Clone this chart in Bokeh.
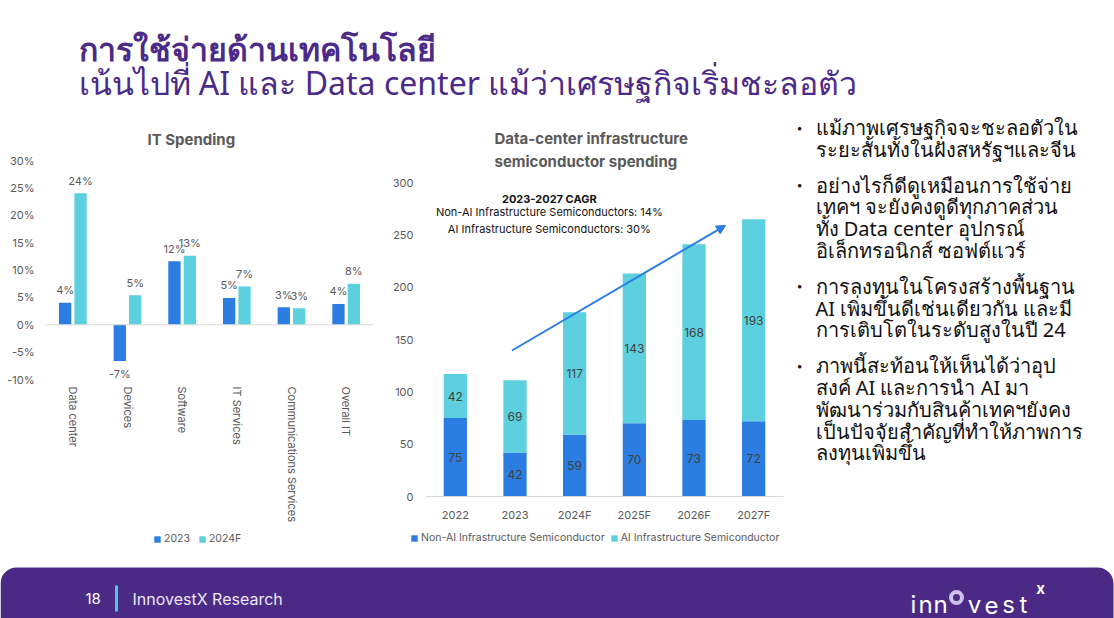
import numpy as np
from bokeh.plotting import figure
from bokeh.models import (ColumnDataSource, Range1d, FactorRange, FixedTicker, PrintfTickFormatter,
                          LabelSet, Label, Legend, LegendItem, Span, Arrow, NormalHead)
from bokeh.layouts import column, row
from bokeh.transform import dodge
from bokeh.core.properties import value
from bokeh.embed import file_html
from bokeh.resources import INLINE

# ---------------- data ----------------
it_categories = ["Data center", "Devices", "Software", "IT Services",
                 "Communications Services", "Overall IT"]
it_2023 = [4.0, -6.6, 11.6, 4.9, 3.2, 3.8]
it_2024f = [24.0, 5.4, 12.6, 7.0, 3.0, 7.5]
it_2023_labels = ["4%", "-7%", "12%", "5%", "3%", "4%"]
it_2024f_labels = ["24%", "5%", "13%", "7%", "3%", "8%"]
it_ticks = [-10, -5, 0, 5, 10, 15, 20, 25, 30]
it_series = ["2023", "2024F"]

dc_years = ["2022", "2023", "2024F", "2025F", "2026F", "2027F"]
dc_non_ai = [75, 42, 59, 70, 73, 72]
dc_ai = [42, 69, 117, 143, 168, 193]
dc_ticks = [0, 50, 100, 150, 200, 250, 300]
dc_series = ["Non-AI Infrastructure Semiconductor", "AI Infrastructure Semiconductor"]
cagr_lines = ["2023-2027 CAGR",
              "Non-AI Infrastructure Semiconductors: 14%",
              "AI Infrastructure Semiconductors: 30%"]

title_line1 = "การใช้จ่ายด้านเทคโนโลยี"
title_line2 = "เน้นไปที่ AI และ Data center แม้ว่าเศรษฐกิจเริ่มชะลอตัว"
bullets = [
    ["แม้ภาพเศรษฐกิจจะชะลอตัวใน", "ระยะสั้นทั้งในฝั่งสหรัฐฯและจีน"],
    ["อย่างไรก็ดีดูเหมือนการใช้จ่าย", "เทคฯ จะยังคงดูดีทุกภาคส่วน",
     "ทั้ง Data center อุปกรณ์", "อิเล็กทรอนิกส์ ซอฟต์แวร์"],
    ["การลงทุนในโครงสร้างพื้นฐาน", "AI เพิ่มขึ้นดีเช่นเดียวกัน และมี",
     "การเติบโตในระดับสูงในปี 24"],
    ["ภาพนี้สะท้อนให้เห็นได้ว่าอุป", "สงค์ AI และการนำ AI มา",
     "พัฒนาร่วมกับสินค้าเทคฯยังคง", "เป็นปัจจัยสำคัญที่ทำให้ภาพการ",
     "ลงทุนเพิ่มขึ้น"],
]
page_number = "18"
footer_text = "InnovestX Research"

# ---------------- style ----------------
BLUE = "#2B7DE1"
CYAN = "#5DD0DF"
PURPLE = "#4B2A88"
GRAY = "#595959"
DARK = "#404040"
FONT = value("Inter")
THAI = value("Noto Sans")


def clean(p, bg="white"):
    p.outline_line_color = None
    p.grid.visible = False
    p.background_fill_color = "white"
    p.border_fill_color = bg


NOB = dict(min_border=0, min_border_left=0, min_border_right=0, min_border_top=0, min_border_bottom=0)

# ---------------- header ----------------
hdr = figure(width=1114, height=110, x_range=Range1d(0, 1114), y_range=Range1d(110, 0),
             output_backend="svg", toolbar_location=None, **NOB)
clean(hdr)
hdr.axis.visible = False
hdr.text(x=[78], y=[48], text=[title_line1], text_font=THAI, text_font_style="bold",
         text_font_size="32px", text_color=PURPLE, text_baseline="alphabetic")
hdr.text(x=[78], y=[82], text=[title_line2], text_font=THAI,
         text_font_size="32px", text_color=PURPLE, text_baseline="alphabetic")

# ---------------- left chart: IT spending ----------------
p1 = figure(width=380, height=415, x_range=FactorRange(*it_categories), y_range=Range1d(-10, 30),
            output_backend="svg", toolbar_location=None,
            min_border_left=45, min_border_right=7, min_border_top=50, min_border_bottom=141)
clean(p1)
p1.title.text = "IT Spending"
p1.title.align = "left"
p1.title.offset = 102
p1.title.standoff = 23
p1.title.text_font = "Inter"
p1.title.text_font_size = "15px"
p1.title.text_font_style = "bold"
p1.title.text_color = GRAY
src1 = ColumnDataSource(dict(
    cat=it_categories, v23=it_2023, v24=it_2024f,
    l23=it_2023_labels, l24=it_2024f_labels,
    o23=[12.5 if v >= 0 else -13 for v in it_2023],
    o24=[12.5 if v >= 0 else -13 for v in it_2024f],
))
bw, dd = 0.225, 0.141
r23 = p1.vbar(x=dodge("cat", -dd, range=p1.x_range), top="v23", width=bw, source=src1,
              fill_color=BLUE, line_color=None)
r24 = p1.vbar(x=dodge("cat", dd, range=p1.x_range), top="v24", width=bw, source=src1,
              fill_color=CYAN, line_color=None)
p1.add_layout(Span(location=0, dimension="width", line_color="#d9d9d9", line_width=1))
for xs, ys, ls, os_ in [(-dd, "v23", "l23", "o23"), (dd, "v24", "l24", "o24")]:
    p1.add_layout(LabelSet(x=dodge("cat", xs, range=p1.x_range), y=ys, text=ls, y_offset=os_,
                           source=src1, text_align="center", text_baseline="middle",
                           text_font=FONT, text_font_size="11px", text_color=GRAY))
p1.yaxis.ticker = FixedTicker(ticks=it_ticks)
p1.yaxis.formatter = PrintfTickFormatter(format="%d%%")
for ax in (p1.xaxis, p1.yaxis):
    ax.axis_line_color = None
    ax.major_tick_line_color = None
    ax.minor_tick_line_color = None
    ax.major_tick_out = 0
    ax.major_tick_in = 0
    ax.minor_tick_out = 0
    ax.major_label_text_color = GRAY
    ax.major_label_text_font = "Inter"
    ax.major_label_text_font_size = "11px"
p1.yaxis.major_label_standoff = 11
p1.xaxis.major_label_orientation = "vertical"
p1.xaxis.major_label_standoff = 7

# ---------------- right chart: data-center semis ----------------
p2 = figure(width=410, height=415, x_range=FactorRange(*dc_years), y_range=Range1d(0, 300),
            output_backend="svg", toolbar_location=None,
            min_border_left=45, min_border_right=7, min_border_top=72, min_border_bottom=29)
clean(p2)
p2.title.text = "Data-center infrastructure\nsemiconductor spending"
p2.title.align = "left"
p2.title.offset = 69
p2.title.standoff = 23
p2.title.text_font = "Inter"
p2.title.text_font_size = "15px"
p2.title.text_font_style = "bold"
p2.title.text_color = GRAY
p2.title.text_line_height = 1.2
src2 = ColumnDataSource(dict(
    year=dc_years, non_ai=dc_non_ai, ai=dc_ai,
    mid_non=[v / 2 for v in dc_non_ai],
    mid_ai=[n + a / 2 for n, a in zip(dc_non_ai, dc_ai)],
    lab_non=[str(v) for v in dc_non_ai], lab_ai=[str(v) for v in dc_ai],
))
rs = p2.vbar_stack(["non_ai", "ai"], x="year", width=0.39, fill_color=[BLUE, CYAN],
                   line_color=None, source=src2)
for ys, ls in [("mid_non", "lab_non"), ("mid_ai", "lab_ai")]:
    p2.add_layout(LabelSet(x="year", y=ys, text=ls, source=src2, text_align="center",
                           text_baseline="middle", text_font=FONT, text_font_size="12px",
                           text_color=DARK))
p2.yaxis.ticker = FixedTicker(ticks=dc_ticks)
for ax in (p2.xaxis, p2.yaxis):
    ax.major_tick_line_color = None
    ax.minor_tick_line_color = None
    ax.major_tick_out = 0
    ax.major_tick_in = 0
    ax.minor_tick_out = 0
    ax.major_label_text_color = GRAY
    ax.major_label_text_font = "Inter"
    ax.major_label_text_font_size = "11px"
p2.yaxis.axis_line_color = None
p2.xaxis.axis_line_color = "#d9d9d9"
p2.yaxis.major_label_standoff = 12
p2.xaxis.major_label_standoff = 11
p2.add_layout(Arrow(end=NormalHead(size=9, fill_color=BLUE, line_color=BLUE),
                    x_start=1.45, y_start=139.5, x_end=5.03, y_end=259,
                    line_color=BLUE, line_width=2))
for i, (t, yv) in enumerate(zip(cagr_lines, [284.5, 271.5, 256])):
    p2.add_layout(Label(x=2.075, y=yv, text=t, text_align="center", text_baseline="middle",
                        text_font="Inter", text_font_size="11px", text_color="#111111",
                        text_font_style="bold" if i == 0 else "normal"))

# ---------------- bullet text ----------------
p3 = figure(width=324, height=415, x_range=Range1d(0, 324), y_range=Range1d(415, 0),
            output_backend="svg", toolbar_location=None, **NOB)
clean(p3)
p3.axis.visible = False
LINE, GAP = 21.8, 14.0
ys_lines, txt_lines, bullet_y = [], [], []
yy = 17.0
for para in bullets:
    bullet_y.append(yy)
    for ln in para:
        ys_lines.append(yy)
        txt_lines.append(ln)
        yy += LINE
    yy += GAP
p3.text(x=[25] * len(txt_lines), y=ys_lines, text=txt_lines, text_font=THAI,
        text_font_size="20px", text_color="#111111", text_baseline="middle")
p3.text(x=[6] * len(bullet_y), y=bullet_y, text=["•"] * len(bullet_y), text_font=FONT,
        text_font_size="11px", text_color="#111111", text_baseline="middle")

# ---------------- legend strip (both charts) ----------------
lf = figure(width=1114, height=35, x_range=Range1d(0, 1114), y_range=Range1d(0, 35),
            output_backend="svg", toolbar_location=None, **NOB)
clean(lf)
lf.axis.visible = False
# swatch renderers for the legends (zero-height, placed outside the visible range)
sw = [lf.vbar(x=[-100], top=[0], bottom=[0], width=1, fill_color=c, line_color=None)
      for c in (BLUE, CYAN, BLUE, CYAN)]
leg_style = dict(orientation="horizontal", border_line_color=None, background_fill_alpha=0,
                 label_text_font="Inter", label_text_font_size="10.5px", label_text_color=GRAY,
                 glyph_width=8, glyph_height=8, label_standoff=3, padding=0, margin=0,
                 label_height=12)
leg1 = Legend(items=[LegendItem(label=it_series[0], renderers=[sw[0]]),
                     LegendItem(label=it_series[1], renderers=[sw[1]])],
              location=(153, 15), spacing=8, **leg_style)
leg2 = Legend(items=[LegendItem(label=dc_series[0], renderers=[sw[2]]),
                     LegendItem(label=dc_series[1], renderers=[sw[3]])],
              location=(410, 16), spacing=5, **leg_style)
lf.add_layout(leg1)
lf.add_layout(leg2)

# ---------------- footer ----------------
ftr = figure(width=1114, height=58, x_range=Range1d(0, 1114), y_range=Range1d(58, 0),
             output_backend="svg", toolbar_location=None, **NOB)
clean(ftr)
ftr.axis.visible = False
ftr.quad(left=[0], right=[1113], top=[7], bottom=[90], fill_color="#4A2A85", line_color=None,
         border_radius=16)
ftr.text(x=[85], y=[38], text=[page_number], text_font=FONT, text_font_size="15px",
         text_color="white", text_baseline="middle")
ftr.segment(x0=[116], y0=[25], x1=[116], y1=[51], line_color="#4FC8E3", line_width=3)
ftr.text(x=[132], y=[38], text=[footer_text], text_font=FONT, text_font_size="16px",
         text_color="#ECE6F5", text_baseline="middle")
logo_chars = ["i", "n", "n", "v", "e", "s", "t"]
logo_x = [913, 925, 940, 974, 991, 1008, 1023]
ftr.text(x=logo_x, y=[44] * len(logo_chars), text=logo_chars, text_font=FONT,
         text_font_size="24px", text_color="white", text_align="center", text_baseline="alphabetic")
ftr.annulus(x=[956], y=[37], inner_radius=3.5, outer_radius=7.5, fill_color="#CFC2EA", line_color=None)
ftr.text(x=[1040], y=[28], text=["x"], text_font=FONT, text_font_style="bold",
         text_font_size="15px", text_color="white", text_align="center", text_baseline="middle")

middle = row(column(p1), column(p2), column(p3), spacing=0)
layout = column(hdr, middle, lf, ftr, spacing=0)
open("out.html", "w").write(file_html(layout, INLINE))
